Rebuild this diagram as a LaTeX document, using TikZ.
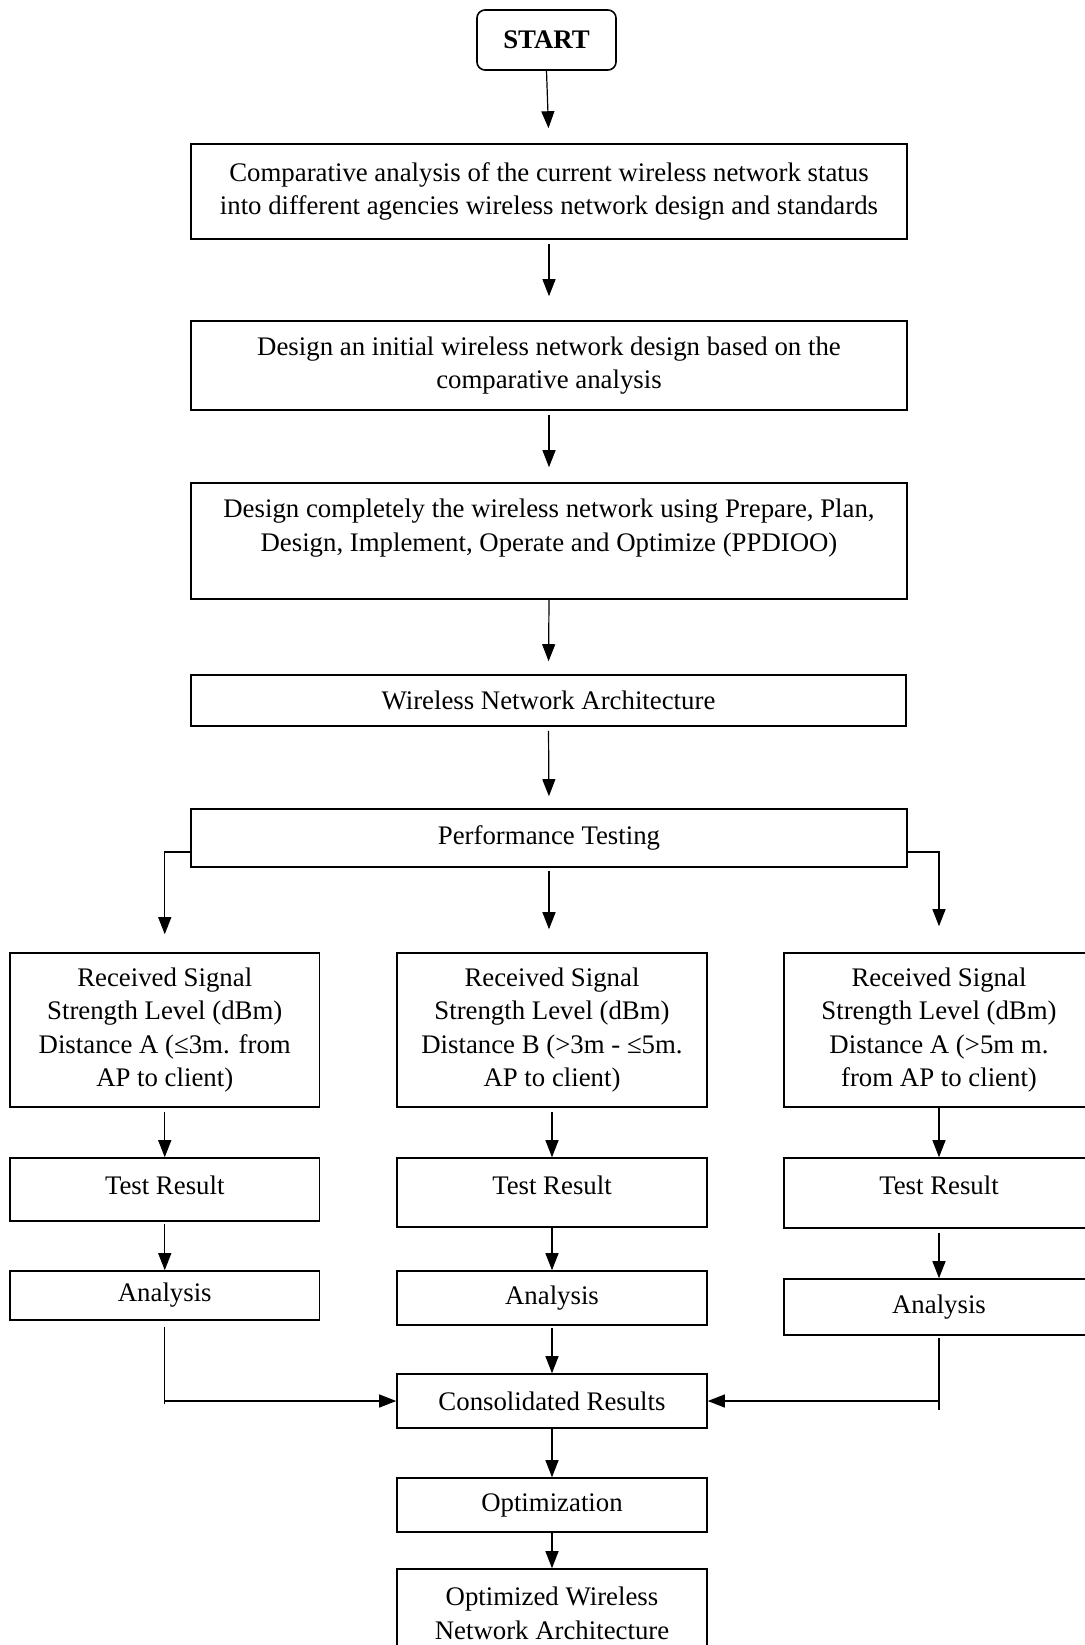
\documentclass[tikz,border=0pt]{standalone}
\usepackage{fontspec}
\setmainfont{Liberation Serif}
\usetikzlibrary{arrows.meta}
\begin{document}
\begin{tikzpicture}[x=0.5pt,y=-0.5pt,
  box/.style={draw, line width=0.8pt, rectangle, inner sep=0pt, align=center, font=\fontsize{13.4}{16.75}\selectfont},
  txt/.style={inner sep=0pt, align=center, font=\fontsize{13.4}{16.75}\selectfont},
  arr/.style={draw, line width=0.6pt, -{Triangle[length=8.5pt,width=6.5pt]}},
  conn/.style={draw, line width=0.6pt}]
\useasboundingbox (0,0) rectangle (1084,1645);
% main column
\node[box, rounded corners=4pt, minimum width=69.5pt, minimum height=30pt, font=\bfseries\fontsize{13.4}{16.75}\selectfont] (start) at (546.5,40) {START};
\node[box, minimum width=358pt, minimum height=47.5pt] (b1) at (549,191.5) {Comparative analysis of the current wireless network status\\into different agencies wireless network design and standards};
\node[box, minimum width=358pt, minimum height=44.5pt] (b2) at (549,365.5) {Design an initial wireless network design based on the\\comparative analysis};
\node[box, minimum width=358pt, minimum height=58pt] (b3) at (549,541) {};
\node[txt] (b3t) at (549,528) {Design completely the wireless network using Prepare, Plan,\\Design, Implement, Operate and Optimize (PPDIOO)};
\node[box, minimum width=357.5pt, minimum height=25.5pt] (b4) at (548.5,700.5) {Wireless Network Architecture};
\node[box, minimum width=358pt, minimum height=29pt] (b5) at (549,838) {Performance Testing};
% signal boxes
\node[box, minimum width=154.75pt, minimum height=77pt] (r1) at (164.75,1030) {Received Signal\\Strength Level (dBm)\\Distance A (≤3m. from\\AP to client)};
\node[box, minimum width=155pt, minimum height=77pt] (r2) at (552,1030) {Received Signal\\Strength Level (dBm)\\Distance B (>3m - ≤5m.\\AP to client)};
\node[box, minimum width=155pt, minimum height=77pt] (r3) at (939,1030) {Received Signal\\Strength Level (dBm)\\Distance A (>5m m.\\from AP to client)};
% test results
\node[box, minimum width=154.75pt, minimum height=31.5pt] (t1) at (164.75,1189.5) {};
\node[txt] (t1t) at (164.75,1185) {Test Result};
\node[box, minimum width=155pt, minimum height=34.5pt] (t2) at (552,1192.5) {};
\node[txt] (t2t) at (552,1185) {Test Result};
\node[box, minimum width=155pt, minimum height=35pt] (t3) at (939,1193) {};
\node[txt] (t3t) at (939,1185) {Test Result};
% analysis
\node[box, minimum width=154.75pt, minimum height=24.5pt] (a1) at (164.75,1295.5) {Analysis};
\node[box, minimum width=155pt, minimum height=27pt] (a2) at (552,1298) {Analysis};
\node[box, minimum width=155pt, minimum height=28pt] (a3) at (939,1307) {Analysis};
% bottom
\node[box, minimum width=155pt, minimum height=27pt] (cons) at (552,1401) {Consolidated Results};
\node[box, minimum width=155pt, minimum height=27pt] (opt) at (552,1505) {Optimization};
\node[box, minimum width=155pt, minimum height=65.5pt] (fin) at (552,1634.5) {};
\node[txt] (fint) at (552,1613.5) {Optimized Wireless\\Network Architecture};
% connectors
\draw[arr, shorten >=7.5pt] (start.south) -- (b1.north);
\draw[arr, shorten <=2pt, shorten >=12pt] (b1.south) -- (b2.north);
\draw[arr, shorten <=2pt, shorten >=7.5pt] (b2.south) -- (b3.north);
\draw[arr, shorten >=6.5pt] (b3.south) -- (b4.north);
\draw[arr, shorten <=2pt, shorten >=6pt] (b4.south) -- (b5.north);
\draw[arr, shorten <=1.5pt, shorten >=11.5pt] (b5.south) -- (b5.south |- r2.north);
\draw[arr, shorten >=9pt] ([yshift=-7pt]b5.west) -| (r1.north);
\draw[arr, shorten >=13pt] ([yshift=-7pt]b5.east) -| (r3.north);
\draw[arr, shorten <=2pt] (r1.south) -- (t1.north);
\draw[arr, shorten <=2pt] (r2.south) -- (t2.north);
\draw[arr] (r3.south) -- (t3.north);
\draw[arr, shorten <=1pt] (t1.south) -- (a1.north);
\draw[arr] (t2.south) -- (a2.north);
\draw[arr, shorten <=2pt] (t3.south) -- (a3.north);
\draw[conn, shorten <=3pt] (a1.south) -- ([yshift=-1.5pt]a1.south |- cons.west);
\draw[arr] (a1.south |- cons.west) -- (cons.west);
\draw[conn, shorten <=1pt] (a3.south) -- ([yshift=-4.5pt]a3.south |- cons.east);
\draw[arr] (a3.south |- cons.east) -- (cons.east);
\draw[arr, shorten <=1pt] (a2.south) -- (cons.north);
\draw[arr] (cons.south) -- (opt.north);
\draw[arr] (opt.south) -- (fin.north);
\end{tikzpicture}
\end{document}
